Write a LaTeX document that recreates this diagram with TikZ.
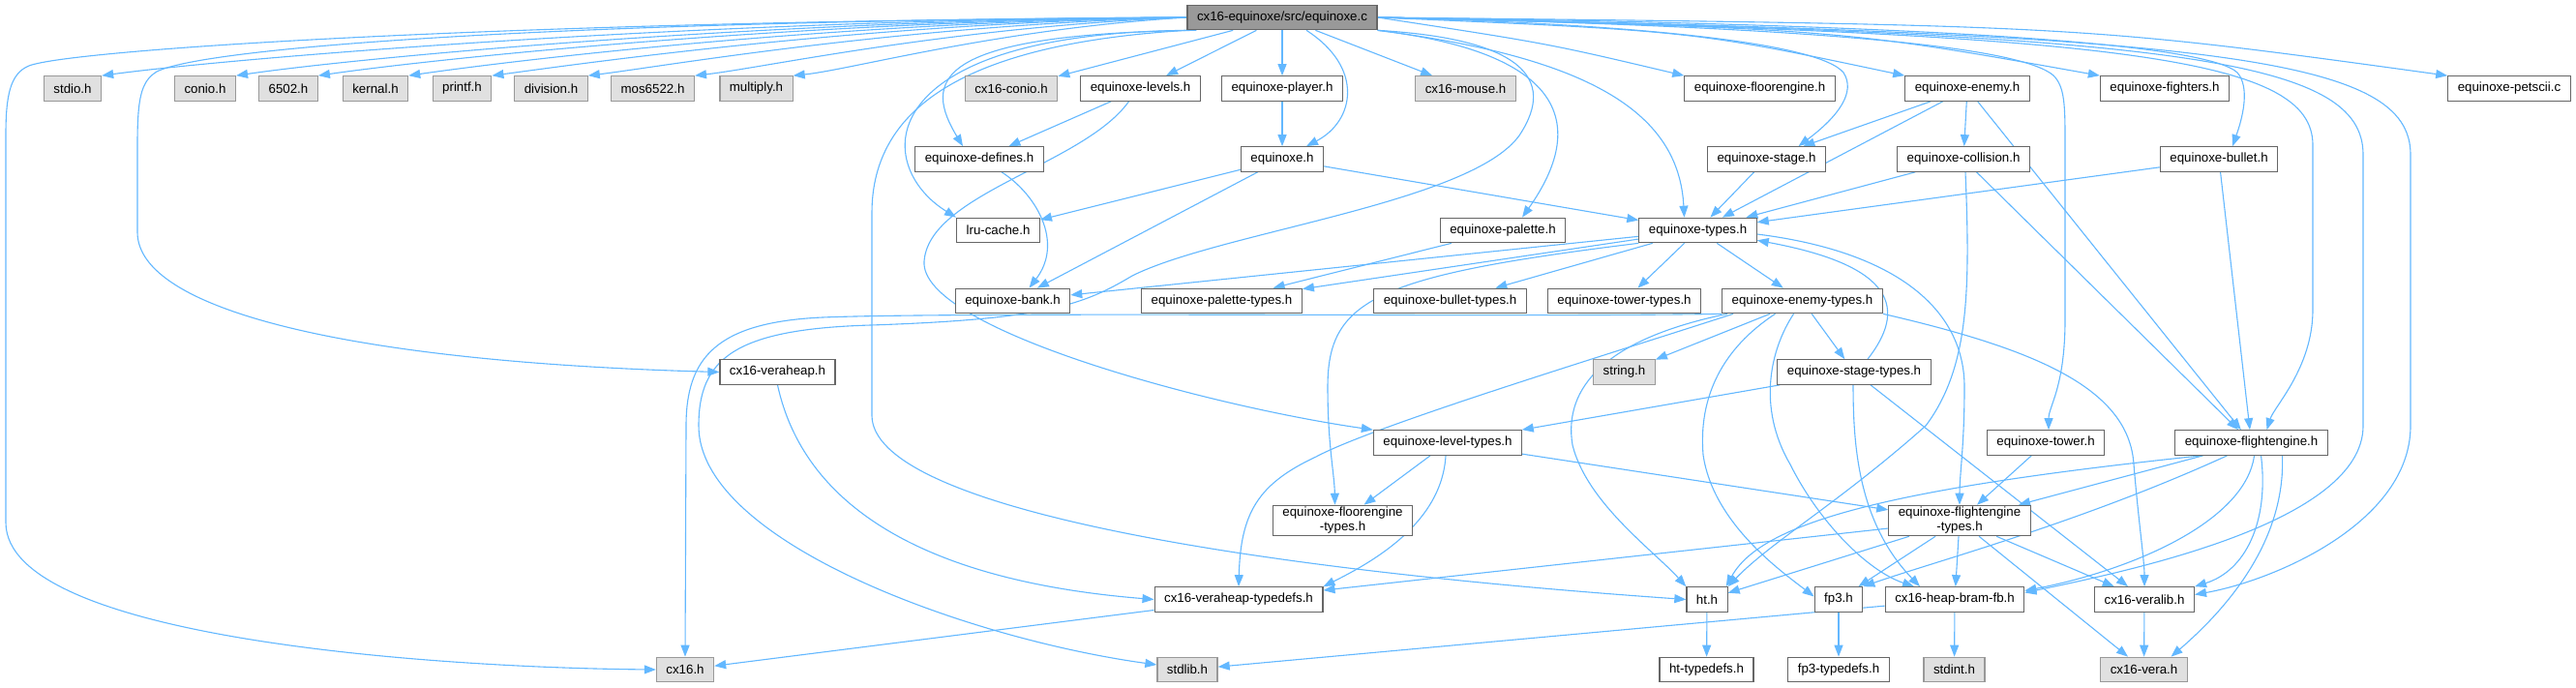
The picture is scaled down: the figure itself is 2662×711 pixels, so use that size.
\documentclass[tikz,border=0pt]{standalone}
\usepackage{fontspec}
\setmainfont{Liberation Sans}
\usetikzlibrary{arrows.meta,backgrounds}
\definecolor{edgeblue}{HTML}{63B8FF}
\definecolor{boxgray}{HTML}{666666}
\definecolor{sysfill}{HTML}{E0E0E0}
\definecolor{sysline}{HTML}{999999}
\definecolor{mainfill}{HTML}{999999}

\begin{document}
\begin{tikzpicture}[x=1pt,y=-1pt,
  hdr/.style={rectangle,draw=boxgray,line width=1.2pt,fill=white,
    minimum height=25.5pt,inner xsep=10pt,inner ysep=2pt,
    align=center,font=\fontsize{13.3}{15}\selectfont},
  syshdr/.style={hdr,draw=sysline,fill=sysfill},
  mainfile/.style={hdr,fill=mainfill},
  dep/.style={-{Triangle[length=12pt,width=9pt]},line width=1.1pt,draw=edgeblue},
]
  \useasboundingbox (0,0) rectangle (2662,711);

  \node[mainfile] (main)     at (1325,18)    {cx16-equinoxe/src/equinoxe.c};
  \node[syshdr] (stdio)      at (75,91.5)    {stdio.h};
  \node[syshdr] (conio)      at (212,91.5)   {conio.h};
  \node[syshdr] (sixfive)    at (298,91.5)   {6502.h};
  \node[syshdr] (kernal)     at (388,91.5)   {kernal.h};
  \node[syshdr] (printf)     at (477.5,91.5) {printf.h};
  \node[syshdr] (division)   at (569.5,91.5) {division.h};
  \node[syshdr] (mos)        at (674.5,91.5) {mos6522.h};
  \node[syshdr] (multiply)   at (781.5,91.5) {multiply.h};
  \node[syshdr] (cxconio)    at (1045,91.5)  {cx16-conio.h};
  \node[hdr] (levels)        at (1178.5,91.5) {equinoxe-levels.h};
  \node[hdr] (player)        at (1325,91.5)  {equinoxe-player.h};
  \node[syshdr] (mouse)      at (1514.5,91.5) {cx16-mouse.h};
  \node[hdr] (floor)         at (1818.5,91.5) {equinoxe-floorengine.h};
  \node[hdr] (enemy)         at (2033,91.5)  {equinoxe-enemy.h};
  \node[hdr] (fighters)      at (2237,91.5)  {equinoxe-fighters.h};
  \node[hdr] (petscii)       at (2593,91.5)  {equinoxe-petscii.c};

  \node[hdr] (defines)       at (1012,164.5) {equinoxe-defines.h};
  \node[hdr] (eqh)           at (1325,164.5) {equinoxe.h};
  \node[hdr] (stage)         at (1825.5,164.5) {equinoxe-stage.h};
  \node[hdr] (collision)     at (2029,164.5) {equinoxe-collision.h};
  \node[hdr] (bullet)        at (2293,164.5) {equinoxe-bullet.h};

  \node[hdr] (lru)           at (1031.5,238) {lru-cache.h};
  \node[hdr] (palette)       at (1553,238)   {equinoxe-palette.h};
  \node[hdr] (types)         at (1754.5,238) {equinoxe-types.h};

  \node[hdr] (bank)          at (1046.5,311) {equinoxe-bank.h};
  \node[hdr] (paltypes)      at (1262.5,311) {equinoxe-palette-types.h};
  \node[hdr] (bullettypes)   at (1498.5,311) {equinoxe-bullet-types.h};
  \node[hdr] (towertypes)    at (1678.5,311) {equinoxe-tower-types.h};
  \node[hdr] (enemytypes)    at (1862.5,311) {equinoxe-enemy-types.h};

  \node[hdr] (veraheap)      at (803.5,384.5) {cx16-veraheap.h};
  \node[syshdr] (string)     at (1678.5,384.5) {string.h};
  \node[hdr] (stagetypes)    at (1916,384.5) {equinoxe-stage-types.h};

  \node[hdr] (leveltypes)    at (1496,457.5) {equinoxe-level-types.h};
  \node[hdr] (tower)         at (2114,457.5) {equinoxe-tower.h};
  \node[hdr] (flight)        at (2326.5,457.5) {equinoxe-flightengine.h};

  \node[hdr] (floortypes)    at (1387.5,538) {equinoxe-floorengine\\-types.h};
  \node[hdr] (flighttypes)   at (2025,538)   {equinoxe-flightengine\\-types.h};

  \node[hdr] (vhtypedefs)    at (1280,619.5) {cx16-veraheap-typedefs.h};
  \node[hdr] (ht)            at (1764,619.5) {ht.h};
  \node[hdr] (fpthree)       at (1900,619.5) {fp3.h};
  \node[hdr] (heapbram)      at (2020,619.5) {cx16-heap-bram-fb.h};
  \node[hdr] (veralib)       at (2216,619.5) {cx16-veralib.h};

  \node[syshdr] (cxsixteen)  at (708,692)    {cx16.h};
  \node[syshdr] (stdlib)     at (1227,692)   {stdlib.h};
  \node[hdr] (httypedefs)    at (1763.5,692) {ht-typedefs.h};
  \node[hdr] (fptypedefs)    at (1900,692)   {fp3-typedefs.h};
  \node[syshdr] (stdint)     at (2019.5,692) {stdint.h};
  \node[syshdr] (vera)       at (2215.5,692) {cx16-vera.h};

  \begin{scope}[on background layer]
  \fill[white] (0,0) rectangle (2662,711);

  % equinoxe.c
  \draw[dep] (main.west) .. controls (720,20) and (240,60) .. (stdio.north east);
  \draw[dep] (main.west) .. controls (770,21) and (360,61) .. (conio.north east);
  \draw[dep] (main.west) .. controls (810,22) and (440,62) .. (sixfive.north east);
  \draw[dep] (main.west) .. controls (850,23) and (520,64) .. (kernal.north east);
  \draw[dep] (main.west) .. controls (890,24) and (600,66) .. (printf.north east);
  \draw[dep] (main.west) .. controls (930,26) and (690,68) .. (division.north east);
  \draw[dep] (main.west) .. controls (980,28) and (790,70) .. (mos.north east);
  \draw[dep] (main.west) .. controls (1030,30) and (880,72) .. (multiply.north east);
  \draw[dep] (main.west) .. controls (500,22) and (70,52) .. (30,68)
    .. controls (10,76) and (6,100) .. (6,140) -- (6,540)
    .. controls (6,660) and (450,690) .. (cxsixteen.west);
  \draw[dep] (main.west) .. controls (550,22) and (210,50) .. (162,74)
    .. controls (146,84) and (142,100) .. (142,150) -- (142,240)
    .. controls (142,320) and (360,374) .. (veraheap.west);
  \draw[dep] ([xshift=10pt]main.south west) .. controls (960,35) and (955,85) .. ([xshift=-17pt]defines.north);
  \draw[dep] (main.south west) .. controls (900,35) and (900,170) .. (lru.north west);
  \draw[dep] (main.south west) .. controls (1000,45) and (901,110) .. (901,220) -- (901,430)
    .. controls (903,520) and (1250,585) .. (ht.west);
  \draw[dep] (main) -- (cxconio);
  \draw[dep] (main) -- (levels);
  \draw[dep] (main) -- (player);
  \draw[dep] ([xshift=25pt]main.south) .. controls (1410,70) and (1400,125) .. ([xshift=25pt]eqh.north);
  \draw[dep] (main) -- (mouse);
  \draw[dep] (main.east) .. controls (1600,45) .. (floor.north west);
  \draw[dep] (main.east) .. controls (1750,32) .. (enemy.north west);
  \draw[dep] (main.east) .. controls (1900,30) .. (fighters.north west);
  \draw[dep] (main.east) .. controls (2150,26) .. (petscii.north west);
  \draw[dep] (main.south east) .. controls (1620,55) and (1640,130) .. ([xshift=20pt]palette.north);
  \draw[dep] (main.south east) .. controls (1650,60) and (1735,120) .. ([xshift=-14pt]types.north);
  \draw[dep] (main.east) .. controls (1700,25) and (1880,45) .. (1905,75)
    .. controls (1918,95) and (1900,120) .. ([xshift=33pt]stage.north);
  \draw[dep] (main.east) .. controls (2000,25) and (2280,45) .. (2312,75)
    .. controls (2325,90) and (2318,120) .. ([xshift=14pt]bullet.north);
  \draw[dep] (main.east) .. controls (1900,28) and (2090,50) .. (2122,78)
    .. controls (2134,90) and (2134,110) .. (2134,150) -- (2134,330)
    .. controls (2134,400) and (2117,420) .. ([xshift=3pt]tower.north);
  \draw[dep] (main.east) .. controls (2200,35) and (2390,60) .. (2390,150) -- (2390,320)
    .. controls (2390,380) and (2350,420) .. ([xshift=16pt]flight.north);
  \draw[dep] (main.east) .. controls (2250,35) and (2442,60) .. (2442,160) -- (2442,440)
    .. controls (2442,540) and (2200,590) .. ([yshift=7pt]heapbram.east);
  \draw[dep] (main.east) .. controls (2300,35) and (2491,60) .. (2491,160) -- (2491,440)
    .. controls (2491,540) and (2350,600) .. ([yshift=5pt]veralib.east);
  \draw[dep] (main.south east) .. controls (1570,40) and (1610,80) .. (1570,140)
    .. controls (1520,210) and (1260,240) .. (1170,285)
    .. controls (1120,315) and (1080,330) .. (900,336)
    .. controls (760,340) and (722,370) .. (722,440)
    .. controls (722,560) and (1000,660) .. ([yshift=5pt]stdlib.west);

  % first level headers
  \draw[dep] (levels) -- (defines);
  \draw[dep] ([xshift=-12pt]levels.south) .. controls (1120,170) and (960,200) .. (955,270)
    .. controls (950,340) and (1250,420) .. (leveltypes.north west);
  \draw[dep] (player) -- (eqh);
  \draw[dep] (eqh) -- (lru);
  \draw[dep] (eqh) -- (bank);
  \draw[dep] (eqh) -- (types);
  \draw[dep] ([xshift=23pt]defines.south) .. controls (1070,200) and (1100,250) .. ([xshift=17pt]bank.north);
  \draw[dep] (enemy) -- (stage);
  \draw[dep] (enemy) -- (types);
  \draw[dep] (enemy) -- (collision);
  \draw[dep] (enemy) -- (flight);
  \draw[dep] (stage) -- (types);
  \draw[dep] (collision) -- (types);
  \draw[dep] (collision) -- (flight);
  \draw[dep] ([xshift=2pt]collision.south) .. controls (2036,300) and (2035,380) .. (1990,440)
    .. controls (1900,520) and (1830,560) .. (ht.north east);
  \draw[dep] (bullet) -- (types);
  \draw[dep] (bullet) -- (flight);
  \draw[dep] (palette) -- (paltypes);

  % equinoxe-types.h
  \draw[dep] (types) -- (bank);
  \draw[dep] (types) -- (paltypes);
  \draw[dep] (types) -- (bullettypes);
  \draw[dep] (types) -- (towertypes);
  \draw[dep] (types) -- (enemytypes);
  \draw[dep] (types.south west) .. controls (1420,285) and (1372,310) .. (1372,400)
    .. controls (1372,460) and (1379,490) .. ([xshift=-8pt]floortypes.north);
  \draw[dep] ([yshift=-4pt]types.east) .. controls (1960,260) and (2030,320) .. (2030,400)
    .. controls (2030,460) and (2025,490) .. (flighttypes.north);

  % equinoxe-enemy-types.h
  \draw[dep] (enemytypes) -- (string);
  \draw[dep] (enemytypes) -- (stagetypes);
  \draw[dep] (enemytypes.south west) .. controls (1600,328) and (1000,322) .. (850,328)
    .. controls (740,333) and (709,370) .. (709,440) -- (cxsixteen.north);
  \draw[dep] ([xshift=12pt]enemytypes.south west) .. controls (1650,370) and (1420,440) .. (1360,472)
    .. controls (1300,500) and (1282,530) .. (vhtypedefs.north);
  \draw[dep] ([xshift=6pt]enemytypes.south west) .. controls (1660,350) and (1615,400) .. (1625,460)
    .. controls (1640,520) and (1710,570) .. (ht.north west);
  \draw[dep] ([xshift=-28pt]enemytypes.south) .. controls (1780,360) and (1755,410) .. (1760,470)
    .. controls (1770,540) and (1840,590) .. ([yshift=3pt]fpthree.west);
  \draw[dep] ([xshift=-9pt]enemytypes.south) .. controls (1830,360) and (1815,420) .. (1850,480)
    .. controls (1880,540) and (1930,590) .. ([xshift=-42pt]heapbram.north);
  \draw[dep] (enemytypes.south east) .. controls (2100,360) and (2200,400) .. (2205,480)
    .. controls (2210,540) and (2216,580) .. (veralib.north);

  % equinoxe-stage-types.h
  \draw[dep] ([xshift=14pt]stagetypes.north) .. controls (1970,320) and (1960,275) .. ([yshift=3pt]types.south east);
  \draw[dep] (stagetypes) -- (leveltypes);
  \draw[dep] ([xshift=-1pt]stagetypes.south) .. controls (1915,460) and (1920,540) .. ([xshift=-36pt]heapbram.north);
  \draw[dep] (stagetypes) -- (veralib);

  % equinoxe-level-types.h
  \draw[dep] (leveltypes) -- (floortypes);
  \draw[dep] (leveltypes) -- (flighttypes);
  \draw[dep] ([xshift=-2pt]leveltypes.south) .. controls (1490,540) and (1420,580) .. (vhtypedefs.north east);

  % flight engine
  \draw[dep] (tower) -- (flighttypes);
  \draw[dep] (flight) -- (flighttypes);
  \draw[dep] ([xshift=28pt]flight.south west) .. controls (1950,505) and (1820,540) .. ([xshift=-2pt]ht.north east);
  \draw[dep] ([xshift=-25pt]flight.south) .. controls (2150,540) and (2000,580) .. (fpthree.north east);
  \draw[dep] ([xshift=3pt]flight.south) .. controls (2320,540) and (2200,590) .. ([yshift=9pt]heapbram.east);
  \draw[dep] ([xshift=10pt]flight.south) .. controls (2345,540) and (2320,590) .. (veralib.north east);
  \draw[dep] ([xshift=32pt]flight.south) .. controls (2362,560) and (2300,630) .. ([xshift=28pt]vera.north);
  \draw[dep] (flighttypes) -- (ht);
  \draw[dep] (flighttypes) -- (fpthree);
  \draw[dep] (flighttypes) -- (heapbram);
  \draw[dep] (flighttypes) -- (veralib);
  \draw[dep] (flighttypes) -- (vera);
  \draw[dep] (flighttypes) -- (vhtypedefs);

  % bottom rows
  \draw[dep] (veraheap.south) .. controls (830,520) and (950,600) .. (vhtypedefs.west);
  \draw[dep] (vhtypedefs) -- (cxsixteen);
  \draw[dep] (ht) -- (httypedefs);
  \draw[dep] (fpthree) -- (fptypedefs);
  \draw[dep] (heapbram) -- (stdint);
  \draw[dep] (heapbram) -- (stdlib);
  \draw[dep] (veralib) -- (vera);
  \end{scope}
\end{tikzpicture}
\end{document}
